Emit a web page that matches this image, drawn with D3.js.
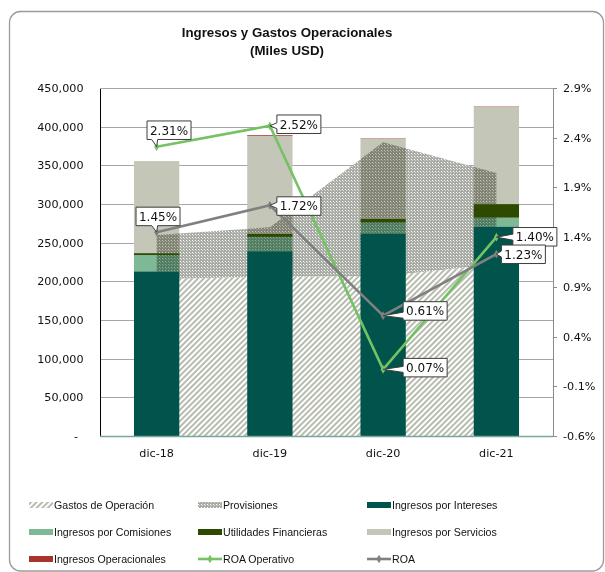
<!DOCTYPE html>
<html><head><meta charset="utf-8">
<script src="https://cdn.jsdelivr.net/npm/d3@7"></script>
<style>html,body{margin:0;padding:0;background:#fff;}svg{display:block;}</style>
</head><body>
<svg id="chart" width="605" height="572"></svg>
<script>
const categories = ["dic-18", "dic-19", "dic-20", "dic-21"];
const gastosOperacion = [203000, 206000, 207000, 222000];
const provisiones = [57000, 64000, 173000, 118000];
const ingresosIntereses = [213000, 239000, 262000, 271000];
const ingresosComisiones = [21000, 18500, 14000, 11300];
const utilidadesFinancieras = [2500, 4300, 5200, 17600];
const ingresosServicios = [119000, 126400, 103300, 125700];
const ingresosOperacionales = [0, 1000, 500, 500];
const roaOperativo = [2.31, 2.52, 0.07, 1.40];
const roa = [1.45, 1.72, 0.61, 1.23];
const leftTicks = [0, 50000, 100000, 150000, 200000, 250000, 300000, 350000, 400000, 450000];
const rightTicks = [-0.6, -0.1, 0.4, 0.9, 1.4, 1.9, 2.4, 2.9];
const titleLines = ["Ingresos y Gastos Operacionales", "(Miles USD)"];

const svg = d3.select("#chart");
const M = {left: 100, right: 553, top: 88, bottom: 436};

const AX_FONT = "'DejaVu Sans', Verdana, sans-serif";
const LEG_FONT = "'Liberation Sans', Arial, sans-serif";

// defs: patterns
const defs = svg.append("defs");
const hatch = defs.append("pattern").attr("id", "hatch").attr("patternUnits", "userSpaceOnUse")
  .attr("width", 4).attr("height", 4).attr("patternTransform", "rotate(45)");
hatch.append("rect").attr("width", 4).attr("height", 4).attr("fill", "#ffffff");
hatch.append("rect").attr("width", 2).attr("height", 4).attr("fill", "#b7bcae");
const dots = defs.append("pattern").attr("id", "dots").attr("patternUnits", "userSpaceOnUse")
  .attr("width", 3).attr("height", 3);
dots.append("rect").attr("width", 3).attr("height", 3).attr("fill", "#a9aba5");
dots.append("rect").attr("width", 1).attr("height", 1).attr("fill", "#ffffff");
dots.append("rect").attr("x", 1).attr("y", 1).attr("width", 1).attr("height", 1).attr("fill", "#d8d9d5");

// frame
svg.append("rect").attr("x", 9.5).attr("y", 11.5).attr("width", 594).attr("height", 559.5)
  .attr("rx", 11).attr("fill", "#fff").attr("stroke", "#9a9a9a").attr("stroke-width", 1.3);

// title
const title = svg.append("text").attr("text-anchor", "middle")
  .style("font-family", LEG_FONT).style("font-weight", "bold").style("font-size", "13.3px").attr("fill", "#111");
titleLines.forEach((t, i) => title.append("tspan").attr("x", 287).attr("y", 37 + i * 18).text(t));

// scales
const x = d3.scaleBand().domain(categories).range([M.left, M.right]).paddingInner(0.6).paddingOuter(0.3);
const y = d3.scaleLinear().domain([0, 450000]).range([M.bottom, M.top]);
const y2 = d3.scaleLinear().domain([-0.6, 2.9]).range([M.bottom, M.top]);
const cx = c => x(c) + x.bandwidth() / 2;

// gridlines
svg.append("g").selectAll("line").data(leftTicks.filter(d => d > 0)).join("line")
  .attr("x1", M.left).attr("x2", M.right).attr("y1", d => Math.round(y(d)) + 0.5).attr("y2", d => Math.round(y(d)) + 0.5)
  .attr("stroke", "#a6a6a6").attr("stroke-width", 1);

// areas (behind bars)
const rows = categories.map((c, i) => ({c, g: gastosOperacion[i], p: provisiones[i]}));
const provArea = d3.area().x(d => cx(d.c)).y0(d => y(d.g)).y1(d => y(d.g + d.p));
svg.append("path").datum(rows)
  .attr("d", d3.area().x(d => cx(d.c)).y0(y(0)).y1(d => y(d.g)))
  .attr("fill", "url(#hatch)");
svg.append("path").datum(rows).attr("d", provArea).attr("fill", "url(#dots)");

// stacked bars
const barSeries = [
  {name: "Ingresos por Intereses", vals: ingresosIntereses, color: "#00544b", light: false},
  {name: "Ingresos por Comisiones", vals: ingresosComisiones, color: "#7fb895", light: true},
  {name: "Utilidades Financieras", vals: utilidadesFinancieras, color: "#2e4a00", light: false},
  {name: "Ingresos por Servicios", vals: ingresosServicios, color: "#c4c6b7", light: true},
  {name: "Ingresos Operacionales", vals: ingresosOperacionales, color: "#a8342b", light: false}
];
const table = categories.map((c, i) => {
  const o = {c};
  barSeries.forEach(s => o[s.name] = s.vals[i]);
  return o;
});
const stack = d3.stack().keys(barSeries.map(s => s.name))(table);
svg.append("g").selectAll("g").data(stack).join("g")
  .attr("fill", (d, i) => barSeries[i].color)
  .selectAll("rect").data(d => d).join("rect")
  .attr("x", d => x(d.data.c)).attr("width", x.bandwidth())
  .attr("y", d => y(d[1])).attr("height", d => Math.max(0, y(d[0]) - y(d[1])));

// dotted overlay only on the light bar segments
const clip = defs.append("clipPath").attr("id", "lightBars");
stack.forEach((layer, i) => {
  if (!barSeries[i].light) return;
  layer.forEach(d => clip.append("rect").attr("x", x(d.data.c)).attr("width", x.bandwidth())
    .attr("y", y(d[1])).attr("height", Math.max(0, y(d[0]) - y(d[1]))));
});
svg.append("path").datum(rows).attr("d", provArea)
  .attr("fill", "url(#dots)").attr("clip-path", "url(#lightBars)").style("mix-blend-mode", "multiply");

// axes
svg.append("line").attr("x1", M.left + 0.5).attr("x2", M.left + 0.5).attr("y1", M.top).attr("y2", M.bottom)
  .attr("stroke", "#000").attr("stroke-width", 1);
svg.append("line").attr("x1", M.left).attr("x2", M.right).attr("y1", M.top + 0.5).attr("y2", M.top + 0.5)
  .attr("stroke", "#a6a6a6");
svg.append("line").attr("x1", M.right + 0.5).attr("x2", M.right + 0.5).attr("y1", M.top).attr("y2", M.bottom)
  .attr("stroke", "#8c8c8c").attr("stroke-width", 1);
svg.append("g").selectAll("line").data(rightTicks).join("line")
  .attr("x1", M.right).attr("x2", M.right + 4).attr("y1", d => Math.round(y2(d)) + 0.5).attr("y2", d => Math.round(y2(d)) + 0.5)
  .attr("stroke", "#8c8c8c");
svg.append("line").attr("x1", M.left).attr("x2", M.right).attr("y1", M.bottom + 0.5).attr("y2", M.bottom + 0.5)
  .attr("stroke", "#7aa6a0").attr("stroke-width", 1.6);

const fmt = d3.format(",");
svg.append("g").selectAll("text").data(leftTicks).join("text")
  .attr("x", d => d === 0 ? 76 : 83.5).attr("y", d => y(d)).attr("dy", "0.36em")
  .attr("text-anchor", d => d === 0 ? "middle" : "end")
  .style("font-family", AX_FONT).style("font-size", "11.2px").attr("fill", "#111")
  .text(d => d === 0 ? "-" : fmt(d));
svg.append("g").selectAll("text").data(rightTicks).join("text")
  .attr("x", 563).attr("y", d => y2(d)).attr("dy", "0.36em")
  .style("font-family", AX_FONT).style("font-size", "11.2px").attr("fill", "#111")
  .text(d => d.toFixed(1) + "%");
svg.append("g").selectAll("text").data(categories).join("text")
  .attr("x", d => cx(d)).attr("y", 457).attr("text-anchor", "middle")
  .style("font-family", AX_FONT).style("font-size", "11.2px").attr("fill", "#111")
  .text(d => d);

// lines
const lineSeries = [
  {name: "ROA Operativo", vals: roaOperativo, color: "#74c264",
   offs: [{dx: -9.6, dy: -25.7, side: "bottom"}, {dx: 7, dy: -10.8, side: "left"}, {dx: 20, dy: -11, side: "left"}, {dx: 16.5, dy: -9.6, side: "left"}]},
  {name: "ROA", vals: roa, color: "#808080",
   offs: [{dx: -20.6, dy: -25, side: "bottom"}, {dx: 7, dy: -8.5, side: "left"}, {dx: 20, dy: -14, side: "left"}, {dx: 5, dy: -9, side: "left"}]}
];
const diamond = d3.symbol().type(d3.symbolDiamond).size(22);
lineSeries.forEach(s => {
  const pts = categories.map((c, i) => [cx(c), y2(s.vals[i])]);
  svg.append("path").attr("d", d3.line()(pts)).attr("fill", "none")
    .attr("stroke", s.color).attr("stroke-width", 2.6).attr("stroke-linejoin", "round");
  svg.append("g").selectAll("path").data(pts).join("path")
    .attr("transform", d => `translate(${d[0]},${d[1]})`).attr("d", diamond).attr("fill", s.color);
});

// callout labels
const BW = 44, BH = 18.5;
function callout(tx, ty, o) {
  const x0 = tx + o.dx, y0 = ty + o.dy, x1 = x0 + BW, y1 = y0 + BH;
  const clamp = (v, a, b) => Math.max(a, Math.min(b, v));
  if (o.side === "bottom") {
    const b1 = clamp(tx - 5, x0 + 2, x1 - 8), b2 = b1 + 6;
    return {x0, y0, x1, y1, d: `M${x0},${y0}H${x1}V${y1}H${b2}L${tx},${ty}L${b1},${y1}H${x0}Z`};
  }
  const b1 = clamp(ty - 3, y0 + 2, y1 - 8), b2 = b1 + 6;
  return {x0, y0, x1, y1, d: `M${x0},${y0}H${x1}V${y1}H${x0}V${b2}L${tx},${ty}L${x0},${b1}Z`};
}
const labG = svg.append("g");
lineSeries.forEach(s => {
  categories.forEach((c, i) => {
    const tx = cx(c), ty = y2(s.vals[i]);
    const co = callout(tx, ty, s.offs[i]);
    labG.append("path").attr("d", co.d).attr("fill", "#fff").attr("stroke", "#3c3c3c").attr("stroke-width", 1)
      .attr("stroke-linejoin", "miter");
    labG.append("text").attr("x", (co.x0 + co.x1) / 2).attr("y", (co.y0 + co.y1) / 2).attr("dy", "0.36em")
      .attr("text-anchor", "middle").style("font-family", AX_FONT).style("font-size", "12px").attr("fill", "#111")
      .text(s.vals[i].toFixed(2) + "%");
  });
});

// legend
const legendItems = [
  {name: "Gastos de Operación", type: "rect", fill: "url(#hatch)"},
  {name: "Provisiones", type: "rect", fill: "url(#dots)"},
  {name: barSeries[0].name, type: "rect", fill: barSeries[0].color},
  {name: barSeries[1].name, type: "rect", fill: barSeries[1].color},
  {name: barSeries[2].name, type: "rect", fill: barSeries[2].color},
  {name: barSeries[3].name, type: "rect", fill: barSeries[3].color},
  {name: barSeries[4].name, type: "rect", fill: barSeries[4].color},
  {name: lineSeries[0].name, type: "line", fill: lineSeries[0].color},
  {name: lineSeries[1].name, type: "line", fill: lineSeries[1].color}
];
const colX = [29, 198, 367], rowY = [505, 532, 559];
const lg = svg.append("g");
legendItems.forEach((it, i) => {
  const lx = colX[i % 3], ly = rowY[Math.floor(i / 3)];
  if (it.type === "rect") {
    lg.append("rect").attr("x", lx).attr("y", ly - 3).attr("width", 24).attr("height", 6).attr("fill", it.fill);
  } else {
    lg.append("line").attr("x1", lx).attr("x2", lx + 24).attr("y1", ly).attr("y2", ly)
      .attr("stroke", it.fill).attr("stroke-width", 2.6);
    lg.append("path").attr("transform", `translate(${lx + 12},${ly})`).attr("d", diamond).attr("fill", it.fill);
  }
  lg.append("text").attr("x", lx + 25).attr("y", ly).attr("dy", "0.36em")
    .style("font-family", LEG_FONT).style("font-size", "10.6px").attr("fill", "#111").text(it.name);
});
</script>
</body></html>
